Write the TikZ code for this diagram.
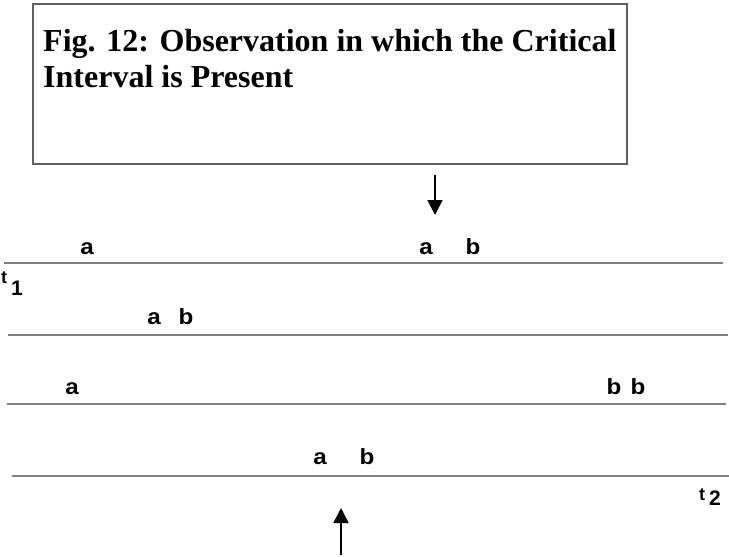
\documentclass[tikz,border=0pt]{standalone}
\usepackage{fontspec}
\setmainfont{Liberation Serif}
\newfontfamily\lblfont{Liberation Sans}
\usetikzlibrary{arrows.meta}
\definecolor{linegray}{HTML}{808080}
\definecolor{boxgray}{HTML}{606060}
\tikzset{
  tl/.style={draw=linegray, line width=2pt},
  lbl/.style={anchor=base, inner sep=0pt, xscale=1.1, font=\lblfont\bfseries\fontsize{22}{22}\selectfont},
  tlab/.style={anchor=base west, inner sep=0pt, font=\lblfont\bfseries\fontsize{18}{18}\selectfont},
  dlab/.style={anchor=base west, inner sep=0pt, font=\lblfont\bfseries\fontsize{21}{21}\selectfont},
  titlebox/.style={draw=boxgray, line width=2pt},
  ttl/.style={anchor=base west, inner sep=0pt, xscale=1.0, font=\bfseries\fontsize{32}{32}\selectfont},
  marker/.style={line width=1.8pt, -{Triangle[length=15pt,width=15pt]}}
}
\begin{document}
\begin{tikzpicture}[x=1pt,y=-1pt]
\useasboundingbox (0,0) rectangle (729,557);
% title box
\draw[titlebox] (33,4) rectangle (627,164);
\node[ttl] (title1) at (43,51) {Fig. 12: Observation in which the Critical};
\node[ttl] (title2) at (43,87) {Interval is Present};
% time lines
\coordinate (l1a) at (4,263);  \coordinate (l1b) at (723,263);
\coordinate (l2a) at (8,335);  \coordinate (l2b) at (728,335);
\coordinate (l3a) at (7,404);  \coordinate (l3b) at (726,404);
\coordinate (l4a) at (12,476); \coordinate (l4b) at (729,476);
\draw[tl] (l1a) -- (l1b);
\draw[tl] (l2a) -- (l2b);
\draw[tl] (l3a) -- (l3b);
\draw[tl] (l4a) -- (l4b);
% row labels
\node[lbl] (r1a) at (87,254) {a};
\node[lbl] (r1a2) at (426,254) {a};
\node[lbl] (r1b) at (473,254) {b};
\node[lbl] (r2a) at (154,324) {a};
\node[lbl] (r2b) at (186,324) {b};
\node[lbl] (r3a) at (72,394) {a};
\node[lbl] (r3b) at (614,394) {b};
\node[lbl] (r3b2) at (638,394) {b};
\node[lbl] (r4a) at (320,464) {a};
\node[lbl] (r4b) at (367,464) {b};
% t1, t2
\node[tlab] (t1) at (1,283) {t};
\node[dlab] (one) at (11,295) {1};
\node[tlab] (t2) at (699,500) {t};
\node[dlab] (two) at (709,505) {2};
% arrows
\coordinate (dtop) at (435,175);
\coordinate (dtip) at (435,215);
\draw[marker] (dtop) -- (dtip);
\coordinate (ubot) at (341,555);
\coordinate (utip) at (341,508);
\draw[marker] (ubot) -- (utip);
\end{tikzpicture}
\end{document}
